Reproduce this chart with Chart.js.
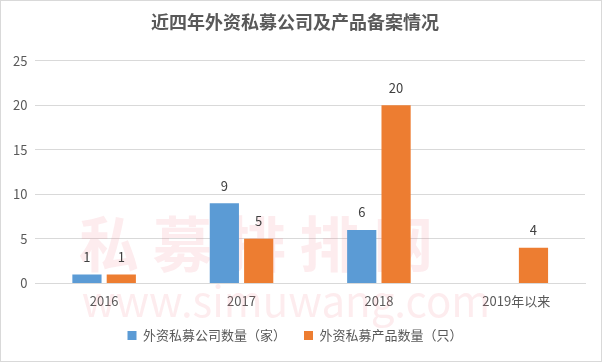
<!DOCTYPE html>
<html>
<head>
<meta charset="utf-8">
<script src="https://cdn.jsdelivr.net/npm/chart.js@4/dist/chart.umd.min.js"></script>
<style>
  html, body { margin: 0; padding: 0; background: #fff; }
  #wrap { position: relative; width: 600px; height: 360px; border: 1px solid #d9d9d9; }
</style>
</head>
<body>
<div id="wrap"><canvas id="barChart" width="600" height="360"></canvas></div>
<script>
// Dữ liệu biểu đồ
const categories = ['2016', '2017', '2018', '2019年以来'];
const companyCounts = [1, 9, 6, null];
const productCounts = [1, 5, 20, 4];
const seriesNames = ['外资私募公司数量（家）', '外资私募产品数量（只）'];
const yTicks = [0, 5, 10, 15, 20, 25];

const FONT = '"Noto Sans CJK SC", "Noto Sans", sans-serif';

// Vẽ nhãn giá trị trên đầu cột
const valueLabels = {
    id: 'valueLabels',
    afterDatasetsDraw(chart) {
        const ctx = chart.ctx;
        ctx.save();
        ctx.font = '13px ' + FONT;
        ctx.fillStyle = '#404040';
        ctx.textAlign = 'center';
        ctx.textBaseline = 'bottom';
        chart.data.datasets.forEach((ds, i) => {
            chart.getDatasetMeta(i).data.forEach((bar, j) => {
                if (ds.data[j] == null) return;
                ctx.fillText(String(ds.data[j]), bar.x, bar.y - 11);
            });
        });
        ctx.restore();
    }
};

// Watermark mờ phía sau
const watermark = {
    id: 'watermark',
    beforeDatasetsDraw(chart) {
        const ctx = chart.ctx;
        ctx.save();
        ctx.fillStyle = 'rgba(240, 110, 120, 0.13)';
        ctx.textAlign = 'center';
        ctx.textBaseline = 'middle';
        ctx.font = 'bold 60px ' + FONT;
        ctx.fillText('私 募 排 排 网', 255, 243);
        ctx.font = '42px ' + FONT;
        ctx.fillText('www.simuwang.com', 285, 300);
        ctx.restore();
    }
};

new Chart(document.getElementById('barChart'), {
    type: 'bar',
    data: {
        labels: categories,
        datasets: [
            { label: seriesNames[0], data: companyCounts, backgroundColor: '#5b9bd5', barPercentage: 0.85, categoryPercentage: 0.5 },
            { label: seriesNames[1], data: productCounts, backgroundColor: '#ed7d31', barPercentage: 0.85, categoryPercentage: 0.5 }
        ]
    },
    options: {
        responsive: false,
        animation: false,
        layout: { padding: { left: 4, right: 16, top: 2, bottom: 9 } },
        plugins: {
            title: {
                display: true,
                text: '近四年外资私募公司及产品备案情况',
                color: '#595959',
                font: { family: FONT, size: 18, weight: 'bold' },
                padding: { top: 8, bottom: 28 }
            },
            legend: {
                position: 'bottom',
                labels: {
                    color: '#595959',
                    font: { family: FONT, size: 13 },
                    boxWidth: 9,
                    boxHeight: 9,
                    padding: 18
                }
            },
            tooltip: { enabled: false }
        },
        scales: {
            x: {
                grid: { display: false },
                border: { color: '#d9d9d9' },
                ticks: { color: '#595959', font: { family: FONT, size: 13 }, padding: 2 }
            },
            y: {
                min: 0,
                max: 25,
                afterBuildTicks(axis) { axis.ticks = yTicks.map(v => ({ value: v })); },
                grid: { color: '#d9d9d9', drawTicks: false },
                border: { display: false },
                ticks: { color: '#595959', font: { family: FONT, size: 13 }, padding: 8 }
            }
        }
    },
    plugins: [watermark, valueLabels]
});
</script>
</body>
</html>
